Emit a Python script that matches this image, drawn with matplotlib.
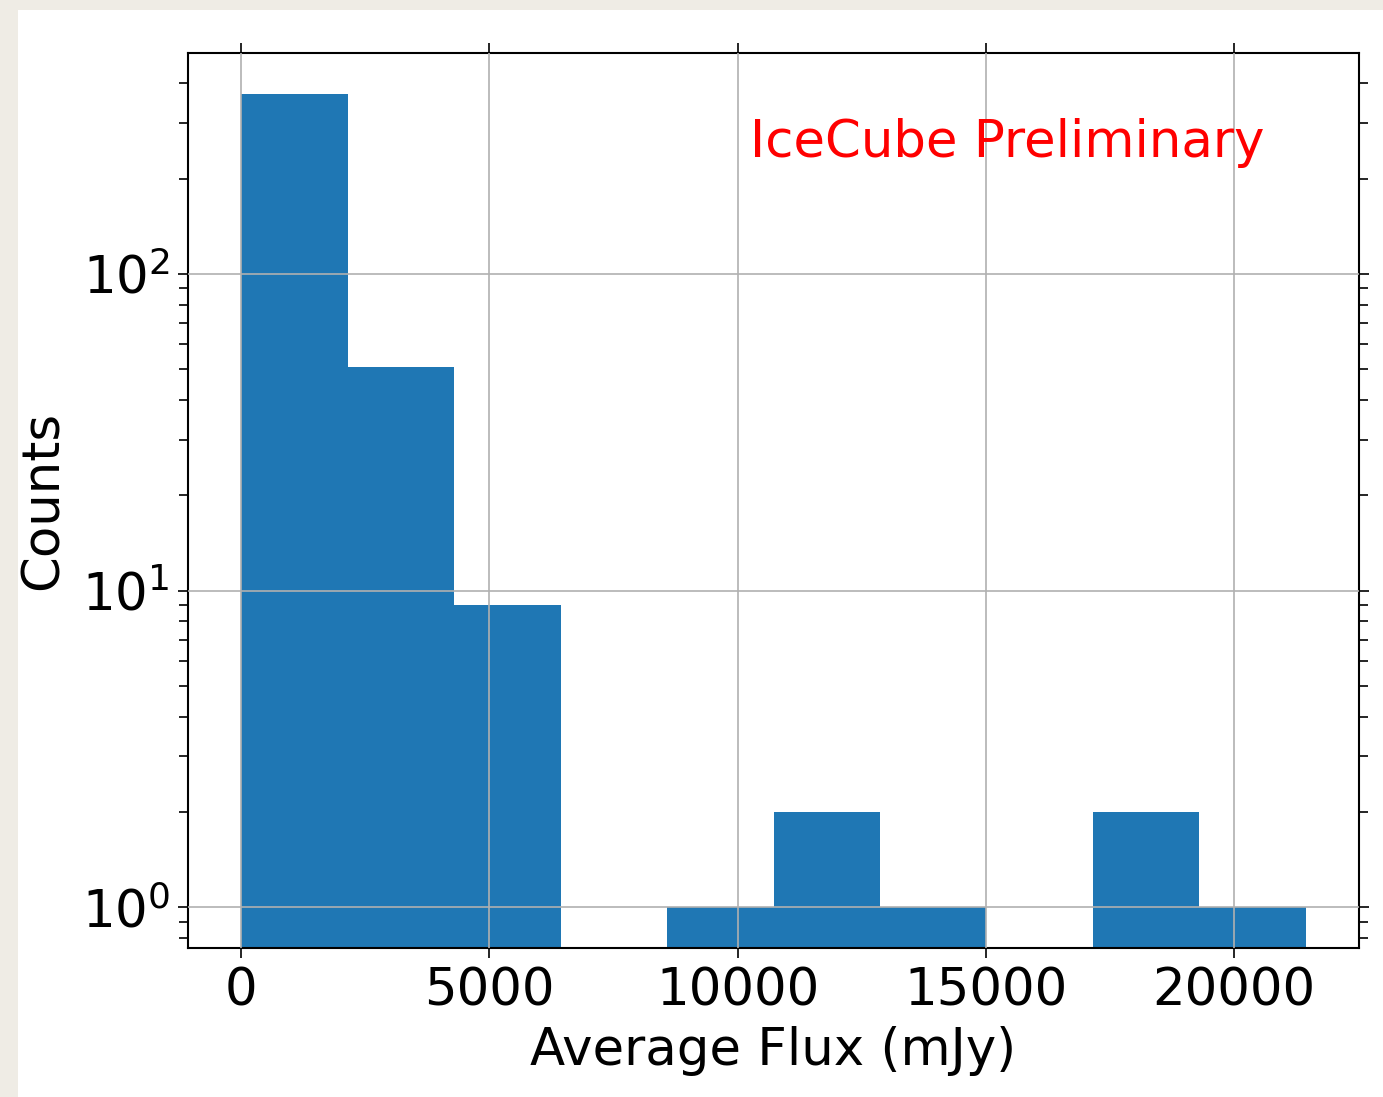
import matplotlib
matplotlib.use("Agg")
import matplotlib.pyplot as plt
from matplotlib.patches import Rectangle

# Histogram of average flux values (10 equal-width bins)
bin_edges = [0, 2145, 4290, 6435, 8580, 10725, 12870, 15015, 17160, 19305, 21450]
counts = [371, 51, 9, 0, 1, 2, 1, 0, 2, 1]
x_ticks = [0, 5000, 10000, 15000, 20000]

bin_centers = [(a + b) / 2 for a, b in zip(bin_edges[:-1], bin_edges[1:])]

W, H, DPI = 1383, 1097, 100
fig = plt.figure(figsize=(W / DPI, H / DPI), dpi=DPI)
fig.patch.set_facecolor("#efece5")
# white page area
fig.patches.append(Rectangle((18 / W, 0), 1 - 18 / W, 1 - 10 / H,
                             transform=fig.transFigure, facecolor="white",
                             edgecolor="none", zorder=-10))

ax = fig.add_axes([188 / W, 1 - 948 / H, (1359 - 188) / W, (948 - 53) / H])
ax.set_zorder(5)
ax.hist(bin_centers, bins=bin_edges, weights=counts, log=True,
        color="#1f77b4", zorder=1)

ax.set_yscale("log")
ax.set_xlim(-1072.5, 22522.5)
ax.set_ylim(0.745, 498)
ax.set_xticks(x_ticks)

ax.set_axisbelow(False)
ax.grid(True, which="major", color="#b0b0b0", linewidth=1.2, zorder=2)

fs = 37
ax.tick_params(axis="both", which="both", direction="out",
               top=True, right=True, labelsize=fs, width=1.2)
ax.tick_params(axis="both", which="major", length=7, pad=6)
ax.tick_params(axis="y", which="minor", length=6.5)
for s in ax.spines.values():
    s.set_linewidth(1.5)

ax.set_xlabel("Average Flux (mJy)", fontsize=fs, labelpad=7)
ax.set_ylabel("Counts", fontsize=fs, labelpad=9)

ax.text(0.48, 0.90, "IceCube Preliminary", color="red", fontsize=fs,
        transform=ax.transAxes, ha="left", va="center")

fig.savefig("out.png", dpi=DPI, facecolor=fig.get_facecolor())
